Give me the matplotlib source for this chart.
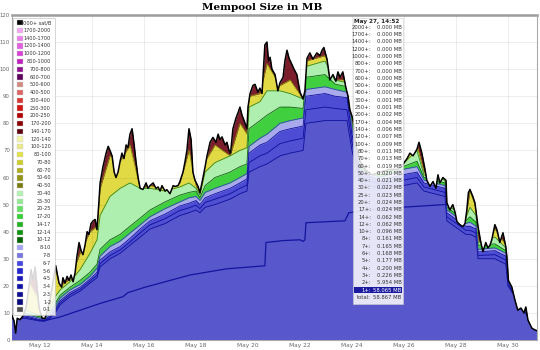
import matplotlib
matplotlib.use('Agg')
import matplotlib.pyplot as plt
from matplotlib.patches import Rectangle

# total mempool size (MB), time in days of May
t = [10.92, 11.00, 11.06, 11.12, 11.23, 11.35, 11.46, 11.58, 11.65, 11.73, 11.81, 11.88, 11.96,
     12.08, 12.19, 12.31, 12.42, 12.54, 12.60, 12.65, 12.73, 12.83, 12.88, 12.96, 13.04, 13.12,
     13.19, 13.27, 13.35, 13.42, 13.50, 13.58, 13.65, 13.73, 13.81, 13.88, 13.96, 14.04, 14.12,
     14.19, 14.25, 14.31, 14.42, 14.54, 14.62, 14.69, 14.77, 14.85, 14.92, 15.00, 15.08, 15.15,
     15.23, 15.31, 15.38, 15.46, 15.54, 15.62, 15.69, 15.77, 15.85, 15.96, 16.08, 16.15, 16.23,
     16.35, 16.46, 16.54, 16.62, 16.69, 16.81, 16.88, 17.00, 17.12, 17.19, 17.31, 17.38, 17.50,
     17.58, 17.65, 17.73, 17.81, 17.88, 17.96, 18.08, 18.15, 18.27, 18.35, 18.42, 18.54, 18.65,
     18.77, 18.85, 18.92, 19.00, 19.12, 19.19, 19.27, 19.33, 19.42, 19.54, 19.62, 19.69, 19.77,
     19.85, 19.96, 20.00, 20.08, 20.19, 20.27, 20.38, 20.46, 20.54, 20.65, 20.73, 20.79, 20.85,
     20.92, 21.04, 21.15, 21.23, 21.35, 21.42, 21.50, 21.58, 21.65, 21.77, 21.88, 22.00, 22.12,
     22.19, 22.27, 22.38, 22.50, 22.65, 22.77, 22.85, 22.92, 23.04, 23.15, 23.27, 23.38, 23.46,
     23.54, 23.65, 23.77, 23.85, 23.92, 24.04, 24.15, 24.31, 24.50, 24.77, 25.08, 25.46, 25.77,
     25.96, 26.12, 26.23, 26.35, 26.50, 26.58, 26.69, 26.81, 26.88, 27.00, 27.12, 27.23, 27.31,
     27.38, 27.50, 27.62, 27.65, 27.77, 27.88, 27.96, 28.04, 28.15, 28.27, 28.35, 28.42, 28.48,
     28.54, 28.65, 28.73, 28.85, 28.96, 29.04, 29.15, 29.23, 29.31, 29.38, 29.50, 29.58, 29.69,
     29.81, 29.92, 29.96, 30.02, 30.15, 30.27, 30.38, 30.50, 30.62, 30.69, 30.77, 30.92, 31.04,
     31.10]
total = [9, 7, 2.5, 8, 7.5, 9, 12, 20, 26, 22, 27, 20, 12,
         8, 8, 12, 17, 24, 27.5, 25, 21, 19.5, 23, 21, 23.5, 22,
         24, 21.5, 25, 31, 36, 33, 31.5, 35, 40, 39, 43, 44, 44.5,
         40.7, 49, 58, 64, 69, 71.5, 70, 68, 62, 60, 62, 66, 69,
         67, 72, 71, 76, 78, 72, 66, 60, 56, 55.6, 58, 56, 57,
         58, 56, 56.5, 55, 57, 55, 55.5, 54, 57, 56.7, 57, 58.5, 62,
         66, 70, 78, 74, 62, 59, 56.7, 54.4, 60, 64, 67.8, 73, 74.8,
         73, 76, 74, 75, 72, 73, 70, 69, 78, 82, 84, 86, 83,
         81, 78, 86, 91, 94, 94.4, 91.5, 93, 91, 109, 110, 103, 104.4,
         100, 98, 92, 95, 97, 103, 107, 104, 102.6, 100, 98, 91.5, 89,
         92, 104, 106, 103.7, 106, 105, 107, 108, 103.7, 96, 98, 95.5, 99,
         97, 99, 93, 90, 85, 81.5, 72, 66, 63, 61, 62, 63, 63,
         64.8, 67, 69, 68, 70.4, 73, 69, 63, 59, 56.7, 58.5, 56, 61,
         58, 60, 58.9, 50.7, 48, 50, 47.4, 43.7, 42.6, 41.9, 43, 48, 54.4,
         55.6, 53, 50.7, 41.9, 36, 32.6, 36, 34, 35, 37, 42.6, 40.7, 36,
         39.6, 34.4, 30.7, 22, 19.6, 14.8, 11, 11.8, 10, 12.2, 7.4, 4.4, 3.7,
         3.5]

# tops of the fee bands (cumulative MB) on a coarser time grid
tl = [10.92, 11.42, 12.00, 12.19, 12.38, 12.58, 12.77, 13.15, 13.54, 13.92, 14.19, 14.31,
      14.69, 15.08, 15.46, 15.85, 16.23, 16.81, 17.38, 17.73, 18.00, 18.15, 18.35, 18.73,
      19.31, 19.69, 19.96, 20.04, 20.46, 20.73, 21.23, 21.62, 22.12, 22.23, 22.96, 23.35,
      23.81, 24.00, 24.31, 25.08, 25.96, 26.50, 26.77, 27.58, 27.65, 28.38, 28.54, 28.77,
      28.85, 29.50, 29.92, 30.00, 31.10]
base = [8, 8, 7, 7, 8, 10, 13, 16, 18, 21, 23, 27,
        30, 32, 35, 38, 41, 43, 46, 47, 48, 47, 49, 50,
        52, 54, 55, 62, 64, 65, 68, 69, 70, 80, 81, 81,
        81, 70, 58, 56, 57, 58, 55, 53, 44, 39, 39, 38,
        30, 30, 28, 20, 3.4]
blue_mid = [8.2, 8.5, 7.2, 7.2, 8.5, 10.8, 13.8, 16.8, 18.8, 21.8, 24, 28.2,
            31.2, 33.2, 36.2, 39.5, 42.5, 44.8, 47.8, 48.8, 49.8, 48.5, 50.8, 52,
            54, 56, 57.2, 65.5, 68, 69, 72.5, 73.5, 74.5, 85, 86, 85.5,
            85, 73, 60, 57.5, 59, 60, 56.5, 54.5, 45.5, 40.5, 40.5, 39.5,
            31.2, 31.5, 29.5, 20.5, 3.45]
blue = [8.5, 9, 7.5, 7.5, 9, 11.5, 14.5, 17.5, 19.5, 22.5, 25, 29.5,
        32.5, 34.5, 37.5, 41, 44, 46.5, 49.5, 50.5, 51.5, 50, 52.5, 54,
        56, 58, 59.5, 69, 72, 73, 77, 78, 79, 90, 91, 90,
        89.5, 76, 62, 59, 61, 62, 58, 56, 47, 42, 42, 41,
        32.5, 33, 31, 21, 3.5]
lav = [9, 9.5, 8, 8, 10, 12.5, 15.5, 18.5, 20.5, 23.5, 26.5, 31,
       34.5, 36.5, 39.5, 42.5, 45.5, 48.5, 51, 52.5, 53, 51.5, 54.5, 56,
       58, 60, 61.5, 71.5, 74.5, 76, 80, 81, 82, 92.5, 93.5, 92.5,
       91.5, 78, 63, 60, 63, 64, 59, 57, 48, 43, 43.5, 42,
       33.5, 34, 32, 21.5, 3.6]
gmid = [9, 10, 8.5, 8, 10.5, 13.5, 16.5, 19.5, 22, 25, 28, 33.5,
        37, 39, 42, 45, 48, 51, 53.5, 54.5, 55, 52.5, 57, 60,
        62, 64, 65, 78, 81, 83, 86, 86, 85.5, 97, 98, 94.5,
        93.5, 79, 64, 61, 64, 66, 60, 58, 49, 44, 45.5, 43.5,
        35, 35.5, 33, 22, 3.7]
green = [9, 11, 9, 8.5, 12, 16, 18.5, 21.5, 26, 32, 37, 46,
         53, 56, 58, 56, 56, 55, 56.5, 58, 56, 53.5, 62, 65.5,
         68, 70, 71, 86, 88, 92, 92, 91, 89, 101, 103, 96,
         95, 80, 65, 62, 65, 70, 61, 59, 50, 45, 49, 46,
         36, 38, 34, 22, 3.8]
yellow = [9, 24, 14, 9, 14, 26, 20, 22.5, 32, 40, 42, 56,
          68, 66, 72, 56, 57, 56, 58, 70, 57, 54, 66, 72,
          68, 80, 76, 90, 91, 102, 94, 96, 89, 103, 105, 96,
          96, 80, 66, 62, 66, 72, 62, 60, 51, 45, 55, 49,
          36, 41, 35, 22, 3.9]

# dark blue line inside the low-fee area
line_t = [12.12, 12.77, 13.54, 14.31, 15.19, 15.38, 16.04, 16.62, 17.77, 19.19, 20.65, 20.69,
          21.35, 22.00, 22.12, 22.19, 22.23, 23.73, 23.88, 25.08, 27.58, 27.62]
line_v = [7.0, 8.5, 11, 13.5, 16, 17.5, 19.5, 21, 24, 26.3, 27.4, 36,
          36.7, 37, 36.4, 37, 43.3, 44, 47, 48.5, 50, 50]

fee_labels = ['2000+ sat/B', '1700-2000', '1400-1700', '1200-1400', '1000-1200', '800-1000',
              '700-800', '600-700', '500-600', '400-500', '300-400', '250-300', '200-250',
              '170-200', '140-170', '120-140', '100-120', '80-100', '70-80', '60-70', '50-60',
              '40-50', '30-40', '25-30', '20-25', '17-20', '14-17', '12-14', '10-12', '8-10',
              '7-8', '6-7', '5-6', '4-5', '3-4', '2-3', '1-2', '0-1']
fee_colors = ['#000000', '#f2a6f2', '#ea80ea', '#e060e0', '#d840d8', '#c020c0',
              '#901090', '#5c005c', '#d08a80', '#e06464', '#d83434', '#d01414', '#b00000',
              '#8c0000', '#5c0010', '#f2f2a8', '#eaea88', '#e2e248', '#cccc2c', '#acac20', '#929218',
              '#7a7a10', '#b4f2b4', '#92e892', '#64e064', '#34d034', '#22b222', '#109210', '#006200',
              '#a4a4f2', '#7474e2', '#4444e0', '#2424d0', '#1818ba', '#1010a8', '#0c0c92', '#08087a',
              '#505050']

tip_labels = ['2000+:', '1700+:', '1400+:', '1200+:', '1000+:', '800+:', '700+:', '600+:',
              '500+:', '400+:', '300+:', '250+:', '200+:', '170+:', '140+:', '120+:', '100+:',
              '80+:', '70+:', '60+:', '50+:', '40+:', '30+:', '25+:', '20+:', '17+:', '14+:',
              '12+:', '10+:', '8+:', '7+:', '6+:', '5+:', '4+:', '3+:', '2+:', '1+:', 'total:']
tip_values = [0.000, 0.000, 0.000, 0.000, 0.000, 0.000, 0.000, 0.000,
              0.000, 0.000, 0.001, 0.001, 0.002, 0.004, 0.006, 0.007, 0.009,
              0.011, 0.013, 0.019, 0.020, 0.021, 0.022, 0.023, 0.024, 0.024, 0.062,
              0.062, 0.096, 0.161, 0.165, 0.168, 0.177, 0.200, 0.226, 5.954, 58.065, 58.867]

W, H = 540, 350
fig = plt.figure(figsize=(W / 100, H / 100), dpi=100)
ax = fig.add_axes([12 / W, 10 / H, 525 / W, 325 / H])


def px(x, y):
    return x / W, 1 - y / H


# whole stack, topmost (high fee) colour; everything else is clipped to it
env = ax.fill_between(t, 0, total, color='#7b1f2c', lw=0, zorder=1)
clip = env.get_paths()[0]

layers = [(yellow, '#e2da44', '#8a8a10'),
          (green, '#aeeeae', '#2a8a2a'),
          (gmid, '#3fcf3f', '#106010'),
          (lav, '#a9a9ee', '#3c3cc0'),
          (blue, '#4c4cd4', '#10109a'),
          (blue_mid, '#5050d2', '#10109a'),
          (base, '#5858cc', '#10109a')]
for i, (top, fc, ec) in enumerate(layers):
    f = ax.fill_between(tl, 0, top, color=fc, lw=0, zorder=2 + i)
    f.set_clip_path(clip, ax.transData)
    ln, = ax.plot(tl, top, color=ec, lw=0.6, zorder=2 + i)
    ln.set_clip_path(clip, ax.transData)

ln, = ax.plot(line_t, line_v, color='#1414a0', lw=0.9, zorder=10)
ln.set_clip_path(clip, ax.transData)
ax.plot(t, total, color='black', lw=1.1, zorder=11)

ax.set_xlim(10.92, 31.12)
ax.set_ylim(0, 120)
ax.set_xticks(range(12, 31, 2))
ax.set_xticklabels(['May %d' % d for d in range(12, 31, 2)])
ax.set_yticks(range(0, 121, 10))
ax.tick_params(labelsize=4.2, colors='#666666', length=0, pad=2)
ax.tick_params(axis='y', pad=1.5, labelsize=3.9)
ax.set_axisbelow(False)
ax.grid(True, color='black', alpha=0.08, lw=0.6, zorder=12)
for s in ax.spines.values():
    s.set_color('#aaaaaa')
    s.set_linewidth(0.8)
ax.spines['top'].set_linewidth(2)

fig.text(*px(262, 8), 'Mempool Size in MB', ha='center', va='center',
         fontsize=7.5, fontweight='bold', family='DejaVu Serif')

# fee band legend
fig.add_artist(Rectangle(px(13, 315), 42 / W, 297 / H, transform=fig.transFigure,
                         fc='white', alpha=0.85, ec='#bbbbbb', lw=0.5, zorder=20))
for i, (lab, col) in enumerate(zip(fee_labels, fee_colors)):
    y = 22.7 + 7.76 * i
    fig.add_artist(Rectangle(px(16.7, y + 2.6), 6 / W, 5.2 / H, transform=fig.transFigure,
                             fc=col, ec='#cccccc', lw=0.3, zorder=21))
    fig.text(*px(51, y), lab, ha='right', va='center', fontsize=3.6, color='#333333', zorder=22)

# hover box
fig.add_artist(Rectangle(px(353, 304), 50 / W, 286 / H, transform=fig.transFigure,
                         fc='white', alpha=0.85, ec='#cccccc', lw=0.5, zorder=20))
fig.text(*px(354, 21.5), 'May 27, 14:52', ha='left', va='center', fontsize=4.1,
         fontweight='bold', color='#222222', zorder=22)
for j, (lab, val) in enumerate(zip(tip_labels, tip_values)):
    y = 27.3 + 7.3 * j
    col = '#333333'
    if lab == '1+:':
        fig.add_artist(Rectangle(px(354, y + 3.3), 48 / W, 6.6 / H, transform=fig.transFigure,
                                 fc='#1a1aa0', lw=0, zorder=21))
        col = 'white'
    fig.text(*px(371, y), lab, ha='right', va='center', fontsize=3.8, color=col, zorder=22)
    fig.text(*px(401.5, y), '%.3f MB' % val, ha='right', va='center', fontsize=3.8,
             color=col, zorder=22)

fig.savefig('out.png', dpi=100)
